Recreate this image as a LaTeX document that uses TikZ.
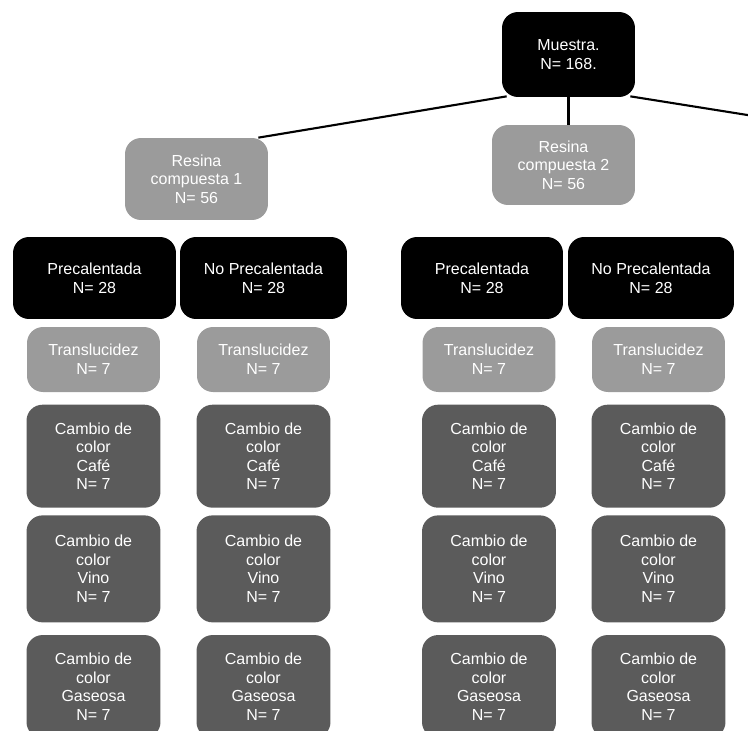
\documentclass[tikz,border=0pt]{standalone}
\usepackage{fontspec}
\setmainfont{Liberation Sans}
\usepackage{tikz}
\usetikzlibrary{positioning}

\definecolor{grisclaro}{HTML}{9B9B9B}
\definecolor{grisoscuro}{HTML}{5B5B5B}

\begin{document}
\begin{tikzpicture}[x=0.02cm,y=-0.02cm,
    font=\fontsize{9.1}{10.6}\selectfont,
    caja/.style={rounded corners=0.32cm,align=center,text=white,inner sep=0pt},
    negra/.style={caja,fill=black},
    clara/.style={caja,fill=grisclaro},
    oscura/.style={caja,fill=grisoscuro,minimum width=2.68cm}]
  \useasboundingbox (0,0) rectangle (748,731);
  \clip (0,0) rectangle (748,731);

  \node[negra,minimum width=2.66cm,minimum height=1.7cm] (mue) at (568.5,54.5) {Muestra.\\ N= 168.};
  \node[clara,minimum width=2.86cm,minimum height=1.64cm] (res1) at (196.5,179) {Resina\\ compuesta 1\\ N= 56};
  \node[clara,minimum width=2.86cm,minimum height=1.6cm] (res2) at (563.5,165) {Resina\\ compuesta 2\\ N= 56};
  \coordinate (res3) at (760,117);

  \node[negra,minimum width=3.26cm,minimum height=1.64cm] (pre1) at (94.5,278) {Precalentada\\ N= 28};
  \node[negra,minimum width=3.34cm,minimum height=1.64cm] (nop1) at (263.5,278) {No Precalentada\\ N= 28};
  \node[negra,minimum width=3.24cm,minimum height=1.64cm] (pre2) at (482,278) {Precalentada\\ N= 28};
  \node[negra,minimum width=3.32cm,minimum height=1.64cm] (nop2) at (651,278) {No Precalentada\\ N= 28};

  \node[clara,minimum width=2.66cm,minimum height=1.3cm] (tra1) at (93.5,359.5) {Translucidez\\ N= 7};
  \node[clara,minimum width=2.66cm,minimum height=1.3cm] (tra2) at (263.5,359.5) {Translucidez\\ N= 7};
  \node[clara,minimum width=2.66cm,minimum height=1.3cm] (tra3) at (489,359.5) {Translucidez\\ N= 7};
  \node[clara,minimum width=2.66cm,minimum height=1.3cm] (tra4) at (658.5,359.5) {Translucidez\\ N= 7};

  \node[oscura,minimum height=2.06cm,below=0.24cm of tra1] (caf1) {Cambio de\\ color\\ Café\\ N= 7};
  \node[oscura,minimum height=2.06cm,below=0.24cm of tra2] (caf2) {Cambio de\\ color\\ Café\\ N= 7};
  \node[oscura,minimum height=2.06cm,below=0.24cm of tra3] (caf3) {Cambio de\\ color\\ Café\\ N= 7};
  \node[oscura,minimum height=2.06cm,below=0.24cm of tra4] (caf4) {Cambio de\\ color\\ Café\\ N= 7};

  \node[oscura,minimum height=2.14cm,below=0.14cm of caf1] (vin1) {Cambio de\\ color\\ Vino\\ N= 7};
  \node[oscura,minimum height=2.14cm,below=0.14cm of caf2] (vin2) {Cambio de\\ color\\ Vino\\ N= 7};
  \node[oscura,minimum height=2.14cm,below=0.14cm of caf3] (vin3) {Cambio de\\ color\\ Vino\\ N= 7};
  \node[oscura,minimum height=2.14cm,below=0.14cm of caf4] (vin4) {Cambio de\\ color\\ Vino\\ N= 7};

  \node[oscura,minimum height=2.06cm,below=0.24cm of vin1] (gas1) {Cambio de\\ color\\ Gaseosa\\ N= 7};
  \node[oscura,minimum height=2.06cm,below=0.24cm of vin2] (gas2) {Cambio de\\ color\\ Gaseosa\\ N= 7};
  \node[oscura,minimum height=2.06cm,below=0.24cm of vin3] (gas3) {Cambio de\\ color\\ Gaseosa\\ N= 7};
  \node[oscura,minimum height=2.06cm,below=0.24cm of vin4] (gas4) {Cambio de\\ color\\ Gaseosa\\ N= 7};

  \draw[line width=1.2pt] ([xshift=0.1cm,yshift=0.02cm]mue.south west) -- ([xshift=-0.2cm]res1.north east);
  \draw[line width=1.2pt] (mue.south) -- (mue.south |- res2.north);
  \draw[line width=1.2pt] ([xshift=-0.1cm,yshift=0.02cm]mue.south east) -- (res3);
\end{tikzpicture}
\end{document}
